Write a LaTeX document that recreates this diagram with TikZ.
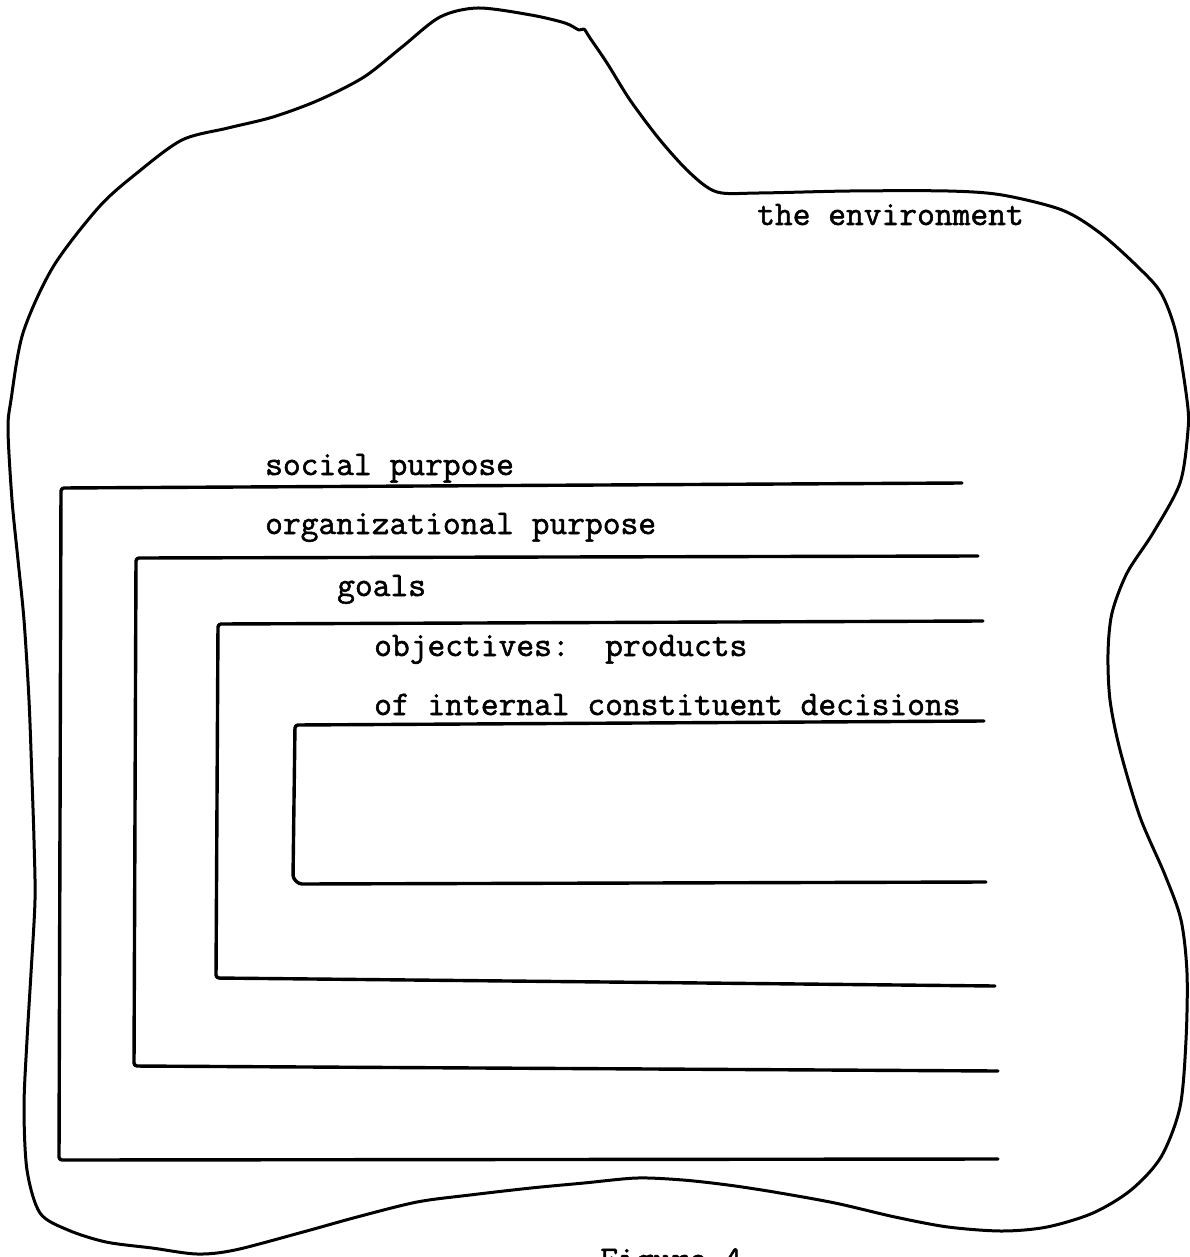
\documentclass[tikz,border=0pt]{standalone}
\usepackage{fontspec}
\newfontfamily\typewriter{Latin Modern Mono}[FakeBold=1.6]
\begin{document}
\begin{tikzpicture}[x=1pt,y=-1pt,
  rule/.style={line width=3.4pt, line cap=round, line join=round, rounded corners=3pt},
  outline/.style={line width=3pt, line join=round},
  lbl/.style={anchor=base west, inner sep=0pt, font=\typewriter\fontsize{34.5}{40}\selectfont}]
\useasboundingbox (0,0) rectangle (1190,1257);
% environment outline
\draw[outline] plot[smooth cycle, tension=0.5] coordinates {
 (8,430) (11,400) (23,333) (53,267) (99,207) (137,173) (182,140) (228,128)
 (273,117) (319,100) (364,77) (402,47) (440,17) (478,8) (531,15) (565,23)
 (579,30) (584,29) (590,38) (607,63) (630,100) (660,140) (690,173) (717,192)
 (759,193) (850,191) (948,191) (1002,195) (1062,210) (1100,233) (1138,267)
 (1161,293) (1176,333) (1187,400) (1188,430) (1180,483) (1153,533) (1127,573)
 (1112,613) (1108,653) (1110,700) (1120,750) (1140,817) (1165,875) (1181,920)
 (1187,973) (1186,1040) (1180,1107) (1161,1157) (1131,1190) (1093,1213)
 (1047,1227) (1002,1231) (948,1227) (895,1217) (835,1203) (774,1192)
 (728,1185) (683,1180) (637,1178) (584,1183) (531,1188) (470,1195)
 (417,1202) (357,1217) (303,1232) (235,1250) (197,1254) (152,1248)
 (106,1242) (68,1230) (40,1213) (27,1170) (24,1107) (27,1040) (31,973)
 (35,900) (34,840) (32,780) (29,700) (24,620) (18,560) (12,500)};
% nested open boxes
\draw[rule] (962,483) -- (61,488) -- (59,1160) -- (998,1159);
\draw[rule] (978,556) -- (136,558) -- (134,1066) -- (998,1071);
\draw[rule] (983,621) -- (218,624) -- (216,978) -- (995,986);
\draw[rule] (984,721) -- (295,725) -- (293,878) -- (299,884) -- (986,882);
% labels
\node[lbl] (env) at (757,225) {the environment};
\node[lbl] (soc) at (265,475) {social purpose};
\node[lbl] (org) at (265,534) {organizational purpose};
\node[lbl] (goa) at (337,596) {goals};
\node[lbl] (obj) at (374,656) {objectives:\ \ products};
\node[lbl] (oic) at (374,715) {of internal constituent decisions};
\node[lbl] (fig) at (600,1270) {Figure 4};
\end{tikzpicture}
\end{document}
